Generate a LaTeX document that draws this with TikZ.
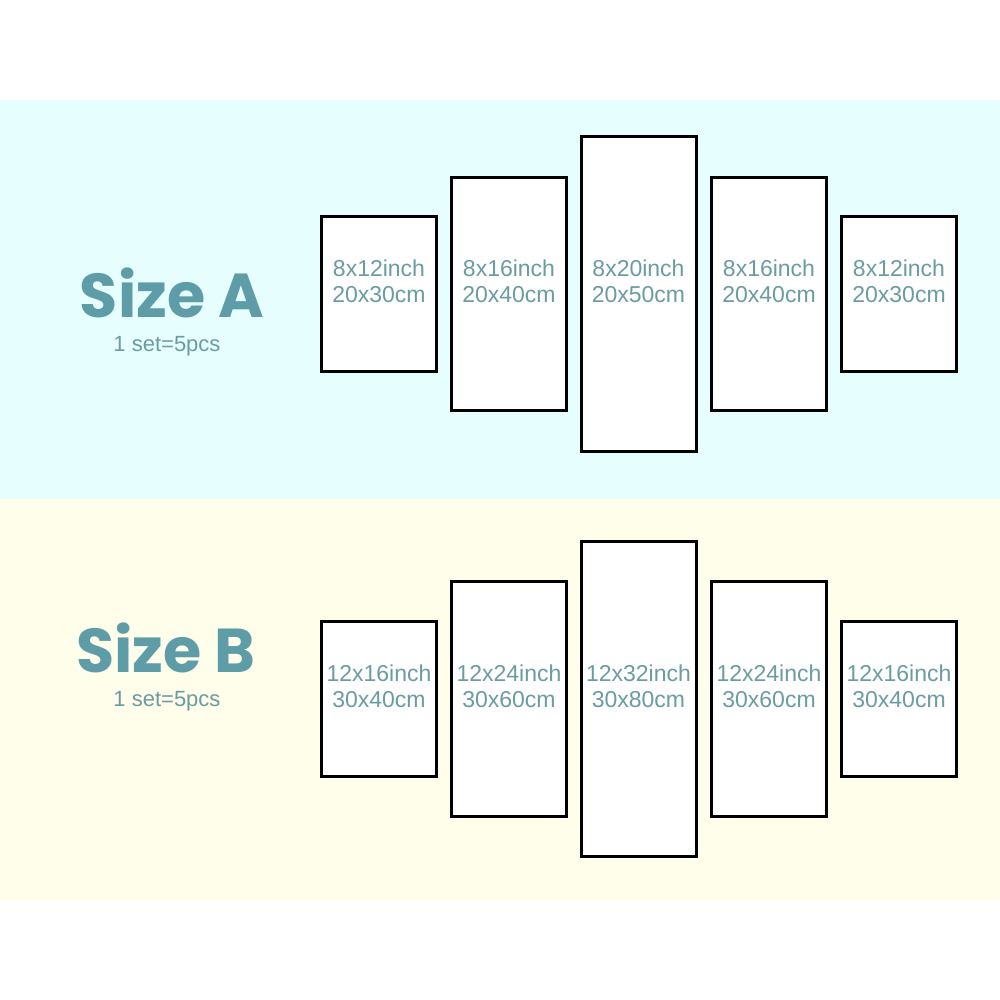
\documentclass[tikz,border=0pt]{standalone}
\usepackage{fontspec}
\setmainfont{Liberation Sans}
\newfontfamily\headfont{Poppins}
\usetikzlibrary{positioning}
\definecolor{bgA}{HTML}{E6FEFE}
\definecolor{bgB}{HTML}{FEFEEA}
\definecolor{headcol}{HTML}{5E9DA8}
\definecolor{dimcol}{HTML}{6A9CA2}
\tikzset{
  panel/.style={draw=black,fill=white,line width=3pt,minimum width=115pt,inner sep=0pt},
  dim/.style={text=dimcol,align=center,font=\fontsize{23}{26}\selectfont},
  head/.style={text=headcol,inner sep=0pt,anchor=base,font=\headfont\bfseries\fontsize{62}{62}\selectfont},
  sets/.style={text=dimcol,inner sep=0pt,font=\fontsize{22}{26}\selectfont}
}
\begin{document}
\begin{tikzpicture}[x=1pt,y=-1pt,line join=miter]
            \useasboundingbox (0,0) rectangle (1000,1000);
            \fill[white] (0,0) rectangle (1000,1000);
            \fill[bgA] (0,100) rectangle (1000,499);
            \fill[bgB] (0,499) rectangle (1000,900);
            % size A
            \node[head] (headA) at (172,317) {Size A};
            \node[sets] (setA) at (167,346) {1 set=5pcs};
            \foreach \cx/\h/\inch/\cm [count=\n] in {379/155/8x12/20x30,509/233/8x16/20x40,638.5/315/8x20/20x50,769/233/8x16/20x40,899/155/8x12/20x30}{
                \node[panel,minimum height=\h pt] (a\n) at (\cx,294) {};
                \node[dim] (ta\n) at ([yshift=13pt]a\n.center) {\inch inch\\\cm cm};
            }
            % size B
            \node[head] (headB) at (166,672) {Size B};
            \node[sets] (setB) at (167,701) {1 set=5pcs};
            \foreach \cx/\h/\inch/\cm [count=\n] in {379/155/12x16/30x40,509/235/12x24/30x60,638.5/315/12x32/30x80,769/235/12x24/30x60,899/155/12x16/30x40}{
                \node[panel,minimum height=\h pt] (b\n) at (\cx,699) {};
                \node[dim] (tb\n) at ([yshift=13pt]b\n.center) {\inch inch\\\cm cm};
            }
        \end{tikzpicture}
\end{document}
